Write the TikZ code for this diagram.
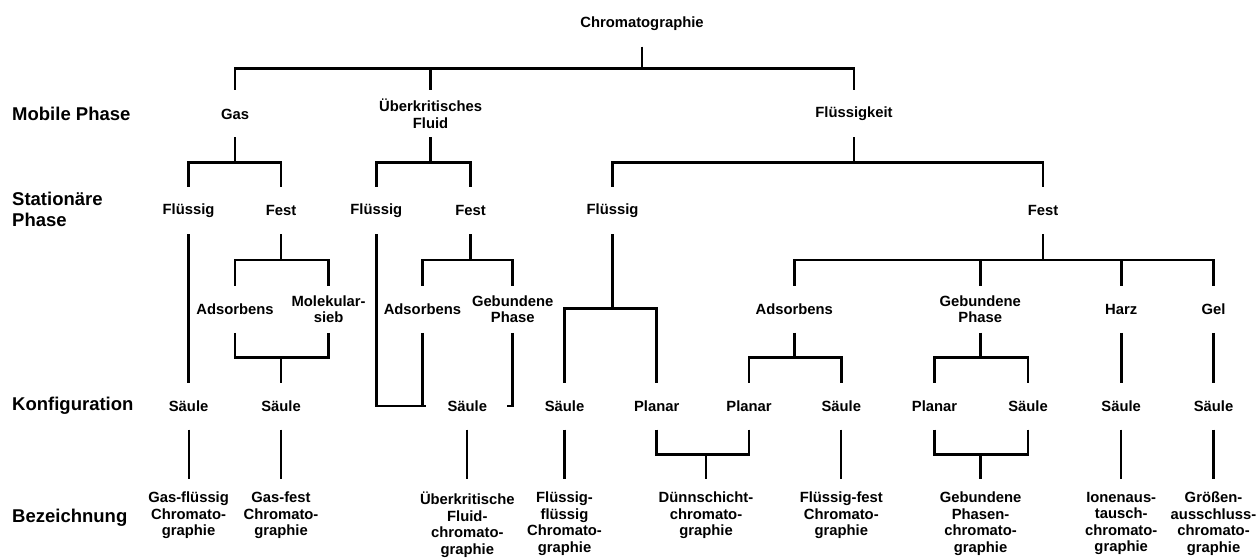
\documentclass[tikz,border=0pt]{standalone}
\usepackage{fontspec}
\setmainfont{Liberation Sans}
\usetikzlibrary{calc}

\tikzset{
  lbl/.style={font=\fontsize{14.8}{16.5}\selectfont\bfseries, align=center,
    inner sep=0pt, outer sep=0pt, minimum height=47pt},
  namelbl/.style={font=\fontsize{14.8}{16.5}\selectfont\bfseries, align=center,
    anchor=north, inner xsep=0pt, inner ysep=13pt, outer sep=0pt},
  rowlbl/.style={font=\fontsize{18.5}{21}\selectfont\bfseries, align=left,
    anchor=west, inner sep=0pt},
  conn/.style={line width=2.7pt, line join=miter},
  thinconn/.style={line width=2.2pt}
}

% elbow from a parent down to a child, the bar halfway between them
\newcommand\treelink[2]{\draw[conn] (#1.south) |- ($(#1.south)!.5!(#2.north)$) -| (#2.north);}
\newcommand\straightlink[2]{\draw[conn] (#1.south) -- (#2.north);}
\newcommand\namelink[2]{\draw[conn,thinconn] (#1.south) -- (#2.north);}

\begin{document}
\begin{tikzpicture}[x=1pt, y=-1pt]
\useasboundingbox (0,0) rectangle (1258,559);

% row captions
\node[rowlbl] (rmob) at (12,114) {Mobile Phase};
\node[rowlbl] (rsta) at (12,209.5) {Stationäre\\Phase};
\node[rowlbl] (rkon) at (12,406) {Konfiguration};
\node[rowlbl] (rbez) at (12,517.3) {Bezeichnung};

% root and mobile phases
\node[lbl] (chrom) at (642,23.3) {Chromatographie};
\node[lbl] (gas) at (235,114) {Gas};
\node[lbl] (ukf) at (430.6,114) {Überkritisches\\Fluid};
\node[lbl] (flk) at (854,114) {Flüssigkeit};

% stationary phases
\node[lbl] (gflu) at (188.6,210.7) {Flüssig};
\node[lbl] (gfes) at (281,210.7) {Fest};
\node[lbl] (uflu) at (376.3,210.7) {Flüssig};
\node[lbl] (ufes) at (470.6,210.7) {Fest};
\node[lbl] (lflu) at (612.6,210.7) {Flüssig};
\node[lbl] (lfes) at (1043,210.7) {Fest};

% kinds of solid phase
\node[lbl] (gads) at (235,309.3) {Adsorbens};
\node[lbl] (gmol) at (328.6,309.3) {Molekular-\\sieb};
\node[lbl] (uads) at (422.4,309.3) {Adsorbens};
\node[lbl] (ugeb) at (512.7,309.3) {Gebundene\\Phase};
\node[lbl] (lads) at (794.3,309.3) {Adsorbens};
\node[lbl] (lgeb) at (980.2,309.3) {Gebundene\\Phase};
\node[lbl] (lharz) at (1121.2,309.3) {Harz};
\node[lbl] (lgel) at (1213.5,309.3) {Gel};

% configurations
\node[lbl] (gsae1) at (188.6,406) {Säule};
\node[lbl] (gsae2) at (281,406) {Säule};
\node[lbl] (usae) at (467.3,406) {Säule};
\node[lbl] (lsae1) at (564.5,406) {Säule};
\node[lbl] (lpla1) at (656.7,406) {Planar};
\node[lbl] (lpla2) at (749,406) {Planar};
\node[lbl] (lsae2) at (841.3,406) {Säule};
\node[lbl] (lpla3) at (934.5,406) {Planar};
\node[lbl] (lsae3) at (1028,406) {Säule};
\node[lbl] (lsae4) at (1121.2,406) {Säule};
\node[lbl] (lsae5) at (1213.5,406) {Säule};

% method names
\node[namelbl] (n1) at (188.6,479) {Gas-flüssig\\Chromato-\\graphie};
\node[namelbl] (n2) at (281,479) {Gas-fest\\Chromato-\\graphie};
\node[namelbl] (n3) at (467.3,479) {Überkritische\\Fluid-\\chromato-\\graphie};
\node[namelbl] (n4) at (564.5,479) {Flüssig-\\flüssig\\Chromato-\\graphie};
\node[namelbl] (n5) at (706,479) {Dünnschicht-\\chromato-\\graphie};
\node[namelbl] (n6) at (841.3,479) {Flüssig-fest\\Chromato-\\graphie};
\node[namelbl] (n7) at (980.6,479) {Gebundene\\Phasen-\\chromato-\\graphie};
\node[namelbl] (n8) at (1121.2,479) {Ionenaus-\\tausch-\\chromato-\\graphie};
\node[namelbl] (n9) at (1213.5,479) {Größen-\\ausschluss-\\chromato-\\graphie};

% root to mobile phases
\treelink{chrom}{gas}
\treelink{chrom}{ukf}
\treelink{chrom}{flk}

% mobile to stationary phases
\treelink{gas}{gflu}
\treelink{gas}{gfes}
\treelink{ukf}{uflu}
\treelink{ukf}{ufes}
\treelink{flk}{lflu}
\treelink{flk}{lfes}

% gas branch
\straightlink{gflu}{gsae1}
\treelink{gfes}{gads}
\treelink{gfes}{gmol}
\treelink{gads}{gsae2}
\treelink{gmol}{gsae2}

% supercritical fluid branch
\treelink{ufes}{uads}
\treelink{ufes}{ugeb}
\draw[conn] (uflu.south) |- ([xshift=-22pt]usae.west);
\draw[conn] (uads.south) -- (uads.south |- usae.center);
\draw[conn] (ugeb.south) |- ([xshift=20pt]usae.east);

% liquid branch
\treelink{lflu}{lsae1}
\treelink{lflu}{lpla1}
\treelink{lfes}{lads}
\treelink{lfes}{lgeb}
\treelink{lfes}{lharz}
\treelink{lfes}{lgel}
\treelink{lads}{lpla2}
\treelink{lads}{lsae2}
\treelink{lgeb}{lpla3}
\treelink{lgeb}{lsae3}
\straightlink{lharz}{lsae4}
\straightlink{lgel}{lsae5}

% configurations to method names
\namelink{gsae1}{n1}
\namelink{gsae2}{n2}
\namelink{usae}{n3}
\namelink{lsae1}{n4}
\treelink{lpla1}{n5}
\treelink{lpla2}{n5}
\namelink{lsae2}{n6}
\treelink{lpla3}{n7}
\treelink{lsae3}{n7}
\namelink{lsae4}{n8}
\namelink{lsae5}{n9}
\end{tikzpicture}
\end{document}
